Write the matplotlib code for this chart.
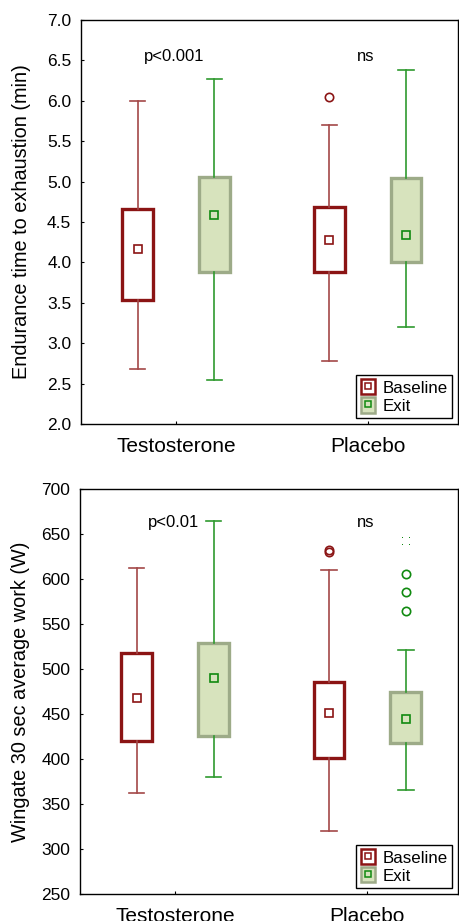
import numpy as np
import matplotlib.pyplot as plt
from matplotlib.path import Path
from matplotlib.patches import Patch
from matplotlib.lines import Line2D
from matplotlib.legend_handler import HandlerTuple

plt.rcParams['font.family'] = ['Liberation Sans', 'DejaVu Sans']

groups = ["Testosterone", "Placebo"]
series = ["Baseline", "Exit"]

# endurance time (min): [Testosterone, Placebo] per series
end_med = {"Baseline": [4.16, 4.28], "Exit": [4.59, 4.34]}
end_q1 = {"Baseline": [3.53, 3.88], "Exit": [3.88, 4.00]}
end_q3 = {"Baseline": [4.66, 4.69], "Exit": [5.06, 5.05]}
end_lo = {"Baseline": [2.68, 2.78], "Exit": [2.54, 3.20]}
end_hi = {"Baseline": [6.00, 5.70], "Exit": [6.27, 6.38]}
end_out = {"Baseline": [[], [6.05]], "Exit": [[], []]}
end_ext = {"Baseline": [[], []], "Exit": [[], []]}

# wingate average work (W)
win_med = {"Baseline": [468, 451], "Exit": [490, 444]}
win_q1 = {"Baseline": [420, 401], "Exit": [426, 418]}
win_q3 = {"Baseline": [518, 486], "Exit": [529, 474]}
win_lo = {"Baseline": [362, 320], "Exit": [380, 366]}
win_hi = {"Baseline": [612, 610], "Exit": [665, 521]}
win_out = {"Baseline": [[], [632.5, 630]], "Exit": [[], [606, 586, 564]]}
win_ext = {"Baseline": [[], []], "Exit": [[], [642]]}

end_pvals = ["p<0.001", "ns"]
win_pvals = ["p<0.01", "ns"]

red = "#8b1414"
red_whisk = "#a34848"
green = "#2f9a2f"
green_edge = "#9dab88"
green_fill = "#d7e3bd"

# four-dot marker for extremes
sq = [(-0.15, -0.15), (0.15, -0.15), (0.15, 0.15), (-0.15, 0.15), (0, 0)]
codes = [Path.MOVETO, Path.LINETO, Path.LINETO, Path.LINETO, Path.CLOSEPOLY]
verts, cods = [], []
for dx, dy in [(-1, -1), (1, -1), (-1, 1), (1, 1)]:
    verts += [(x + dx, y + dy) for x, y in sq]
    cods += codes
dots = Path(verts, cods)

fig = plt.figure(figsize=(4.59, 9.21), dpi=100)


def panel(rect, med, q1, q3, lo, hi, out, ext, pvals, ylim, yticks, fmt, ylabel, ptext_y):
    ax = fig.add_axes(rect)
    x = np.arange(len(groups))
    for k, s in enumerate(series):
        off = -0.2 if k == 0 else 0.2
        stats = []
        for i in range(len(groups)):
            stats.append(dict(med=med[s][i], mean=med[s][i], q1=q1[s][i], q3=q3[s][i],
                              whislo=lo[s][i], whishi=hi[s][i], fliers=out[s][i]))
        if s == "Baseline":
            ec, wc, fc = red, red_whisk, "white"
            mc = red
        else:
            ec, wc, fc = green_edge, green, green_fill
            mc = "#108a10"
        ax.bxp(stats, positions=x + off, widths=0.16, capwidths=0.08,
               patch_artist=True, showmeans=True, manage_ticks=False,
               boxprops=dict(facecolor=fc, edgecolor=ec, linewidth=2.4),
               whiskerprops=dict(color=wc, linewidth=1.2),
               capprops=dict(color=wc, linewidth=1.2),
               medianprops=dict(linewidth=0),
               meanprops=dict(marker="s", markersize=5.8, markeredgecolor=mc,
                              markerfacecolor=fc, markeredgewidth=1.2),
               flierprops=dict(marker="o", markersize=6, markeredgecolor=mc,
                               markerfacecolor="none", markeredgewidth=1.2))
        for i in range(len(groups)):
            if ext[s][i]:
                ax.plot([x[i] + off] * len(ext[s][i]), ext[s][i], linestyle="none",
                        marker=dots, markersize=6, color=mc, markeredgewidth=0)
    for i, p in enumerate(pvals):
        ax.text(x[i] - 0.01, ptext_y, p, ha="center", va="center", fontsize=12)
    ax.set_xlim(-0.495, 1.47)
    ax.set_ylim(*ylim)
    ax.set_yticks(yticks)
    ax.set_yticklabels([fmt.format(v) for v in yticks], fontsize=12.5)
    ax.set_xticks(x)
    ax.set_xticklabels(groups, fontsize=15)
    ax.tick_params(axis="y", direction="in", length=2.5, width=0.8, pad=7)
    ax.tick_params(axis="x", direction="in", length=2.5, width=0.8, pad=9)
    ax.set_ylabel(ylabel, fontsize=14.3)
    ax.yaxis.set_label_coords(-0.132, 0.5)
    for sp in ax.spines.values():
        sp.set_linewidth(1.0)
    h_base = (Patch(facecolor="white", edgecolor=red, linewidth=1.8),
              Line2D([], [], marker="s", linestyle="none", markersize=4.5,
                     markeredgecolor=red, markerfacecolor="white", markeredgewidth=1.1))
    h_exit = (Patch(facecolor=green_fill, edgecolor=green_edge, linewidth=1.8),
              Line2D([], [], marker="s", linestyle="none", markersize=4.5,
                     markeredgecolor="#108a10", markerfacecolor=green_fill, markeredgewidth=1.1))
    leg = ax.legend([h_base, h_exit], series, handler_map={tuple: HandlerTuple(ndivide=1)},
                    loc="lower right", bbox_to_anchor=(0.985, 0.015), fontsize=12.2,
                    handlelength=0.85, handleheight=1.0, handletextpad=0.45,
                    labelspacing=0.1, borderpad=0.25, fancybox=False, framealpha=1,
                    edgecolor="black", borderaxespad=0)
    leg.get_frame().set_linewidth(1.0)
    return ax


panel([0.1765, 0.5396, 0.821, 0.4387], end_med, end_q1, end_q3, end_lo, end_hi,
      end_out, end_ext, end_pvals, (2.0, 7.0), np.arange(2.0, 7.01, 0.5), "{:.1f}",
      "Endurance time to exhaustion (min)", 6.55)
panel([0.1743, 0.0293, 0.823, 0.4397], win_med, win_q1, win_q3, win_lo, win_hi,
      win_out, win_ext, win_pvals, (250, 700), np.arange(250, 701, 50), "{:.0f}",
      "Wingate 30 sec average work (W)", 663)

fig.savefig("out.png", dpi=100)
